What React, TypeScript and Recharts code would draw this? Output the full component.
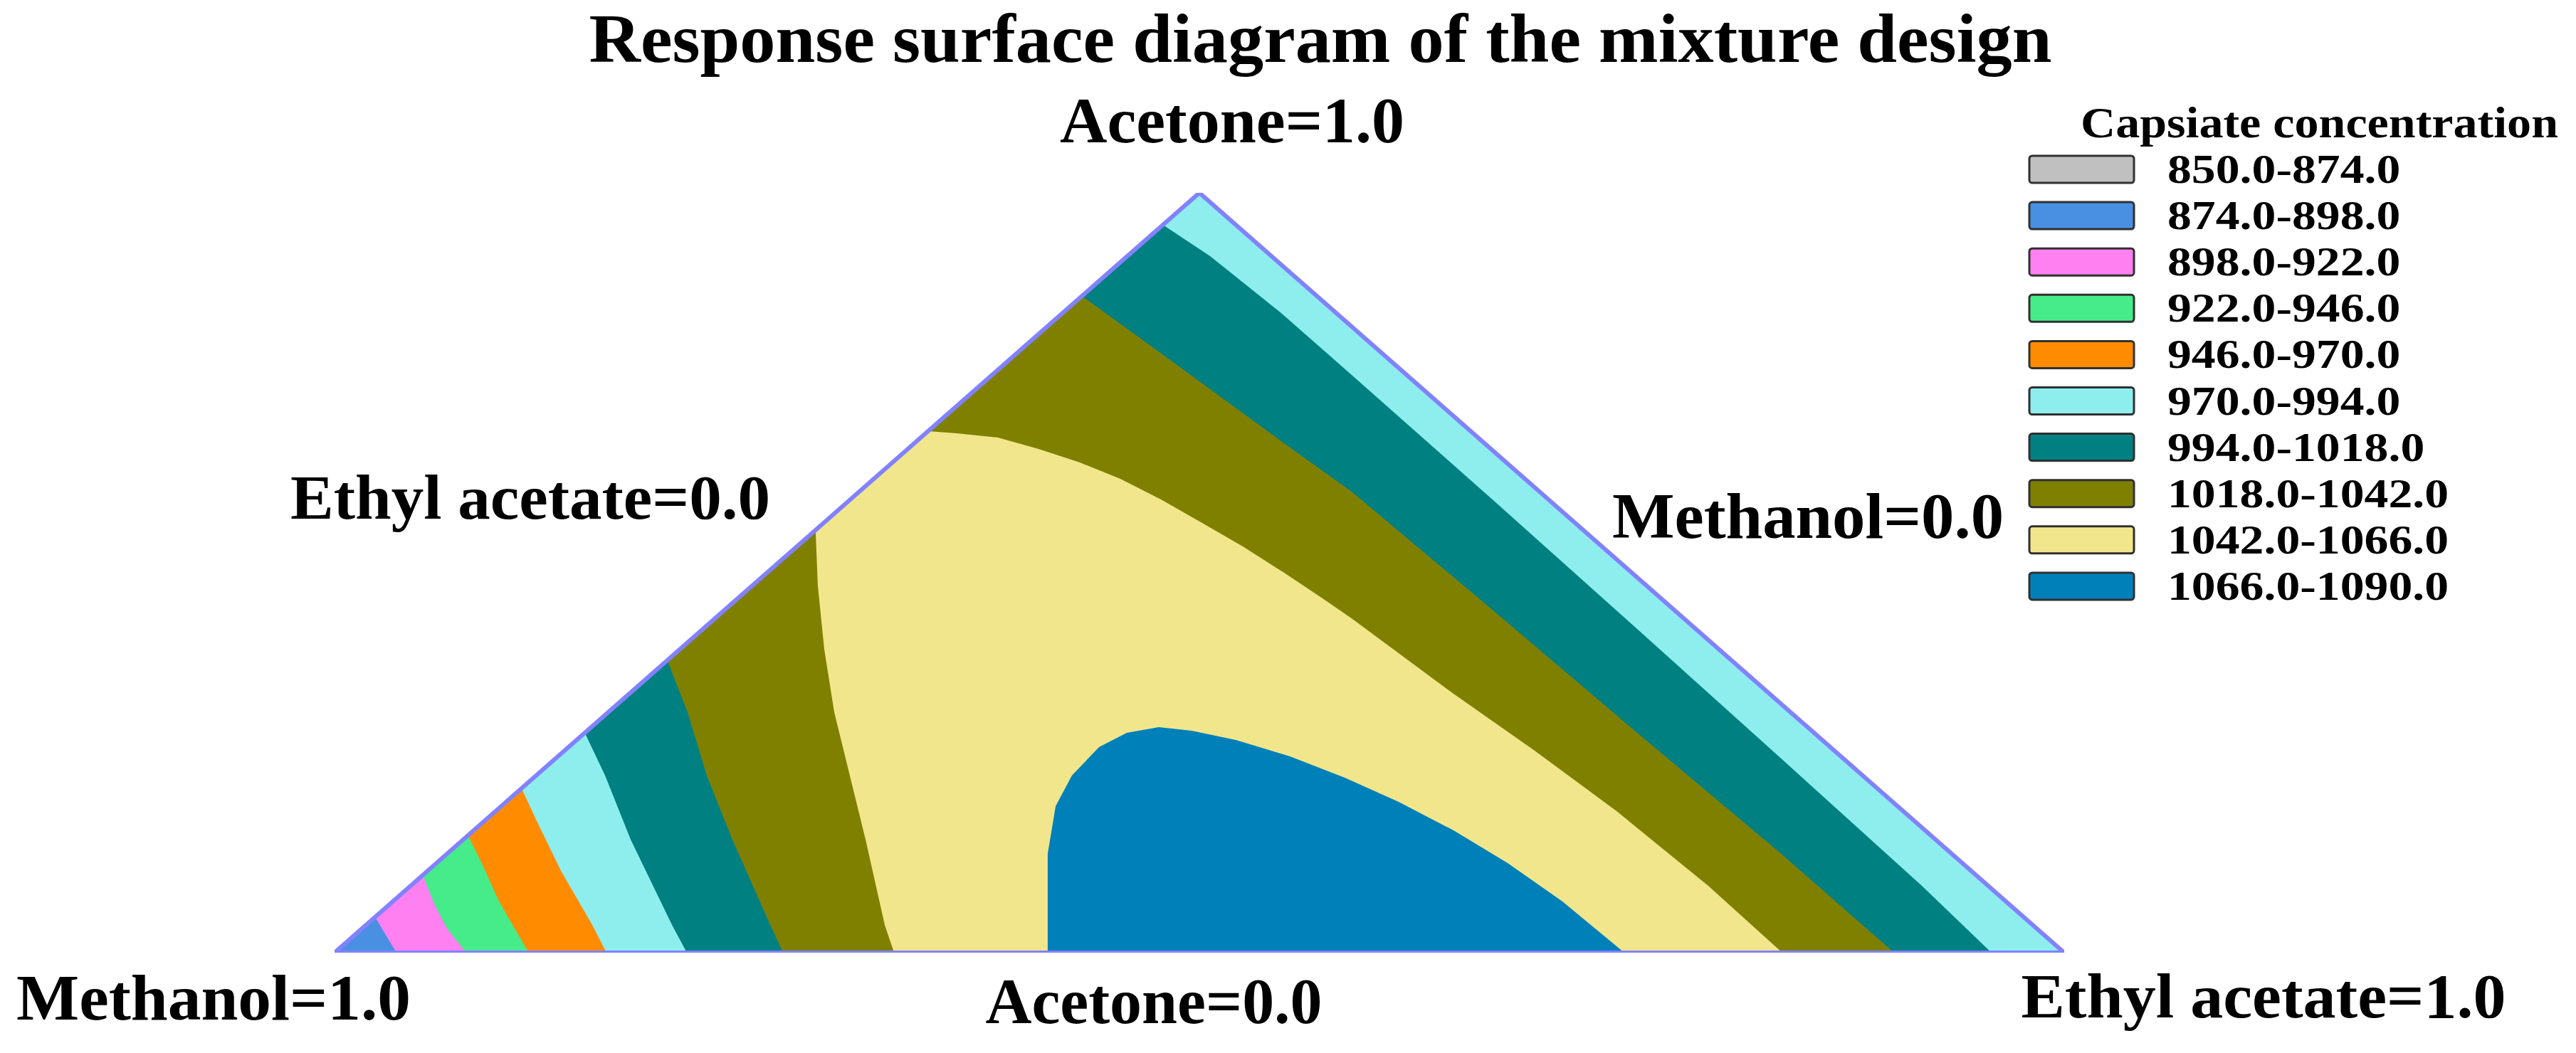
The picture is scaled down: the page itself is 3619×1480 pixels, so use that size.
import React from 'react'
import { ComposedChart, Area, Line, XAxis, YAxis } from 'recharts'

type Pt = [number, number]

// x = position along the base (0 = Methanol=1.0, 1 = Ethyl acetate=1.0), y = acetone fraction
const TRIANGLE: Pt[] = [[0, 0], [0.5, 1], [1, 0]]
const OUTLINE: Pt[] = [[0, 0], [0.5, 1], [1, 0], [0, 0]]
const ORIGIN: Pt = [0, 0]

// contour lines near the methanol corner, from the left edge down to the base
const C898: Pt[] = [[0.0234, 0.047], [0.0358, 0]]
const C922: Pt[] = [[0.051, 0.102], [0.0576, 0.0646], [0.065, 0.0318], [0.0761, 0]]
const C946: Pt[] = [[0.0772, 0.1545], [0.0864, 0.1114], [0.0947, 0.0693], [0.1029, 0.0365], [0.1123, 0]]
const C970: Pt[] = [[0.1081, 0.2163], [0.1177, 0.1695], [0.1309, 0.1077], [0.149, 0.0365], [0.1572, 0]]
const C994L: Pt[] = [[0.1447, 0.2893], [0.1564, 0.2331], [0.1712, 0.1489], [0.1951, 0.0365], [0.2037, 0]]
const C1018L: Pt[] = [[0.1924, 0.3848], [0.2041, 0.3165], [0.2152, 0.2331], [0.23, 0.1489], [0.2519, 0.0365], [0.2593, 0]]
const C1042L: Pt[] = [[0.2781, 0.5562], [0.2794, 0.4831], [0.2831, 0.3998], [0.2889, 0.3165], [0.2979, 0.2331], [0.307, 0.1489], [0.3181, 0.0365], [0.3235, 0]]

// contour lines along the acetone / ethyl acetate side, from the left edge down to the base
const C994R: Pt[] = [[0.4789, 0.9579], [0.5062, 0.9167], [0.5473, 0.8418], [0.5885, 0.7594], [0.6708, 0.5936], [0.7531, 0.426], [0.8354, 0.2575], [0.9177, 0.088], [0.958, 0]]
const C1018R: Pt[] = [[0.4321, 0.8642], [0.465, 0.81], [0.5062, 0.7416], [0.5473, 0.6732], [0.5885, 0.6058], [0.6708, 0.4485], [0.7531, 0.2893], [0.8354, 0.132], [0.9016, 0]]
const C1042R: Pt[] = [[0.3432, 0.6863], [0.3597, 0.6835], [0.3835, 0.6779], [0.407, 0.6629], [0.4309, 0.6451], [0.4543, 0.6236], [0.4778, 0.5964], [0.5016, 0.5655], [0.5251, 0.5346], [0.549, 0.5], [0.5724, 0.4644], [0.5885, 0.4391], [0.6469, 0.3408], [0.6938, 0.2659], [0.7412, 0.1863], [0.7942, 0.088], [0.837, 0]]

// the 1066-1090 maximum region
const C1066: Pt[] = [[0.4123, 0], [0.4123, 0.1301], [0.4169, 0.1929], [0.4263, 0.2331], [0.442, 0.2706], [0.458, 0.2893], [0.4765, 0.2968], [0.4955, 0.2921], [0.521, 0.28], [0.5523, 0.2584], [0.584, 0.2303], [0.6152, 0.1985], [0.6469, 0.161], [0.6782, 0.118], [0.7099, 0.0674], [0.7457, 0]]

const LEVELS = ['850.0-874.0', '874.0-898.0', '898.0-922.0', '922.0-946.0', '946.0-970.0', '970.0-994.0', '994.0-1018.0', '1018.0-1042.0', '1042.0-1066.0', '1066.0-1090.0']
const COLORS = ['#c0c0c0', '#4a90e2', '#ff80f0', '#46ec8a', '#ff8c00', '#8eeeee', '#008080', '#808000', '#f2e68c', '#0080b9']

// painted in order, each later layer covers the earlier ones
const LAYERS: { pts: Pt[]; level: number }[] = [
  { pts: TRIANGLE, level: 5 },
  { pts: [ORIGIN, ...C994R], level: 6 },
  { pts: [ORIGIN, ...C1018R], level: 7 },
  { pts: [ORIGIN, ...C1042R], level: 8 },
  { pts: C1066, level: 9 },
  { pts: [ORIGIN, ...C1042L], level: 7 },
  { pts: [ORIGIN, ...C1018L], level: 6 },
  { pts: [ORIGIN, ...C994L], level: 5 },
  { pts: [ORIGIN, ...C970], level: 4 },
  { pts: [ORIGIN, ...C946], level: 3 },
  { pts: [ORIGIN, ...C922], level: 2 },
  { pts: [ORIGIN, ...C898], level: 1 },
]

const rows = (pts: Pt[]) => pts.map(([x, y]) => ({ x, y }))

const FONT = '"Liberation Serif", "Times New Roman", serif'

const LABELS = [
  { text: 'Response surface diagram of the mixture design', x: 1855, y: 87, size: 98, len: 2055 },
  { text: 'Acetone=1.0', x: 1731, y: 200, size: 90, len: 484 },
  { text: 'Ethyl acetate=0.0', x: 745, y: 729, size: 88, len: 674 },
  { text: 'Methanol=0.0', x: 2540, y: 756, size: 90, len: 550 },
  { text: 'Methanol=1.0', x: 300, y: 1433, size: 92, len: 554 },
  { text: 'Acetone=0.0', x: 1621, y: 1438, size: 90, len: 473 },
  { text: 'Ethyl acetate=1.0', x: 3180, y: 1430, size: 88, len: 681 },
]

export default function App() {
  return (
    <div style={{ position: 'absolute', left: 0, top: 0, width: 3619, height: 1480, background: '#fff' }}>
      <ComposedChart
        width={3619}
        height={1480}
        margin={{ top: 271, right: 719, bottom: 141, left: 470 }}
      >
        <XAxis type="number" dataKey="x" domain={[0, 1]} hide allowDataOverflow />
        <YAxis type="number" domain={[0, 1]} hide allowDataOverflow />
        {LAYERS.map((layer, i) => (
          <Area
            key={`layer-${i}`}
            data={rows(layer.pts)}
            dataKey="y"
            type="linear"
            baseValue={0}
            stroke="none"
            fill={COLORS[layer.level]}
            fillOpacity={1}
            dot={false}
            activeDot={false}
            isAnimationActive={false}
          />
        ))}
        <Line
          data={rows(OUTLINE)}
          dataKey="y"
          type="linear"
          stroke="#8282ff"
          strokeWidth={6}
          strokeLinejoin="round"
          dot={false}
          activeDot={false}
          isAnimationActive={false}
        />
      </ComposedChart>

      <svg width={3619} height={1480} style={{ position: 'absolute', left: 0, top: 0, pointerEvents: 'none' }}>
        {LABELS.map((l) => (
          <text
            key={l.text}
            x={l.x}
            y={l.y}
            textAnchor="middle"
            fontFamily={FONT}
            fontWeight="bold"
            fontSize={l.size}
            textLength={l.len}
            lengthAdjust="spacingAndGlyphs"
            fill="#000"
          >
            {l.text}
          </text>
        ))}

        <text x={2923} y={193} fontFamily={FONT} fontWeight="bold" fontSize={62} textLength={671} lengthAdjust="spacingAndGlyphs" fill="#000">
          Capsiate concentration
        </text>
        {LEVELS.map((lv, i) => {
          const cy = 238 + i * 65.1
          return (
            <g key={lv}>
              <rect x={2851} y={cy - 19} width={147} height={38} rx={4} fill={COLORS[i]} stroke="#303030" strokeWidth={3} />
              <g transform={`translate(3045, ${cy + 19}) scale(1.21, 1)`}>
                <text x={0} y={0} fontFamily={FONT} fontWeight="bold" fontSize={56} fill="#000">
                  {lv}
                </text>
              </g>
            </g>
          )
        })}
      </svg>
    </div>
  )
}
